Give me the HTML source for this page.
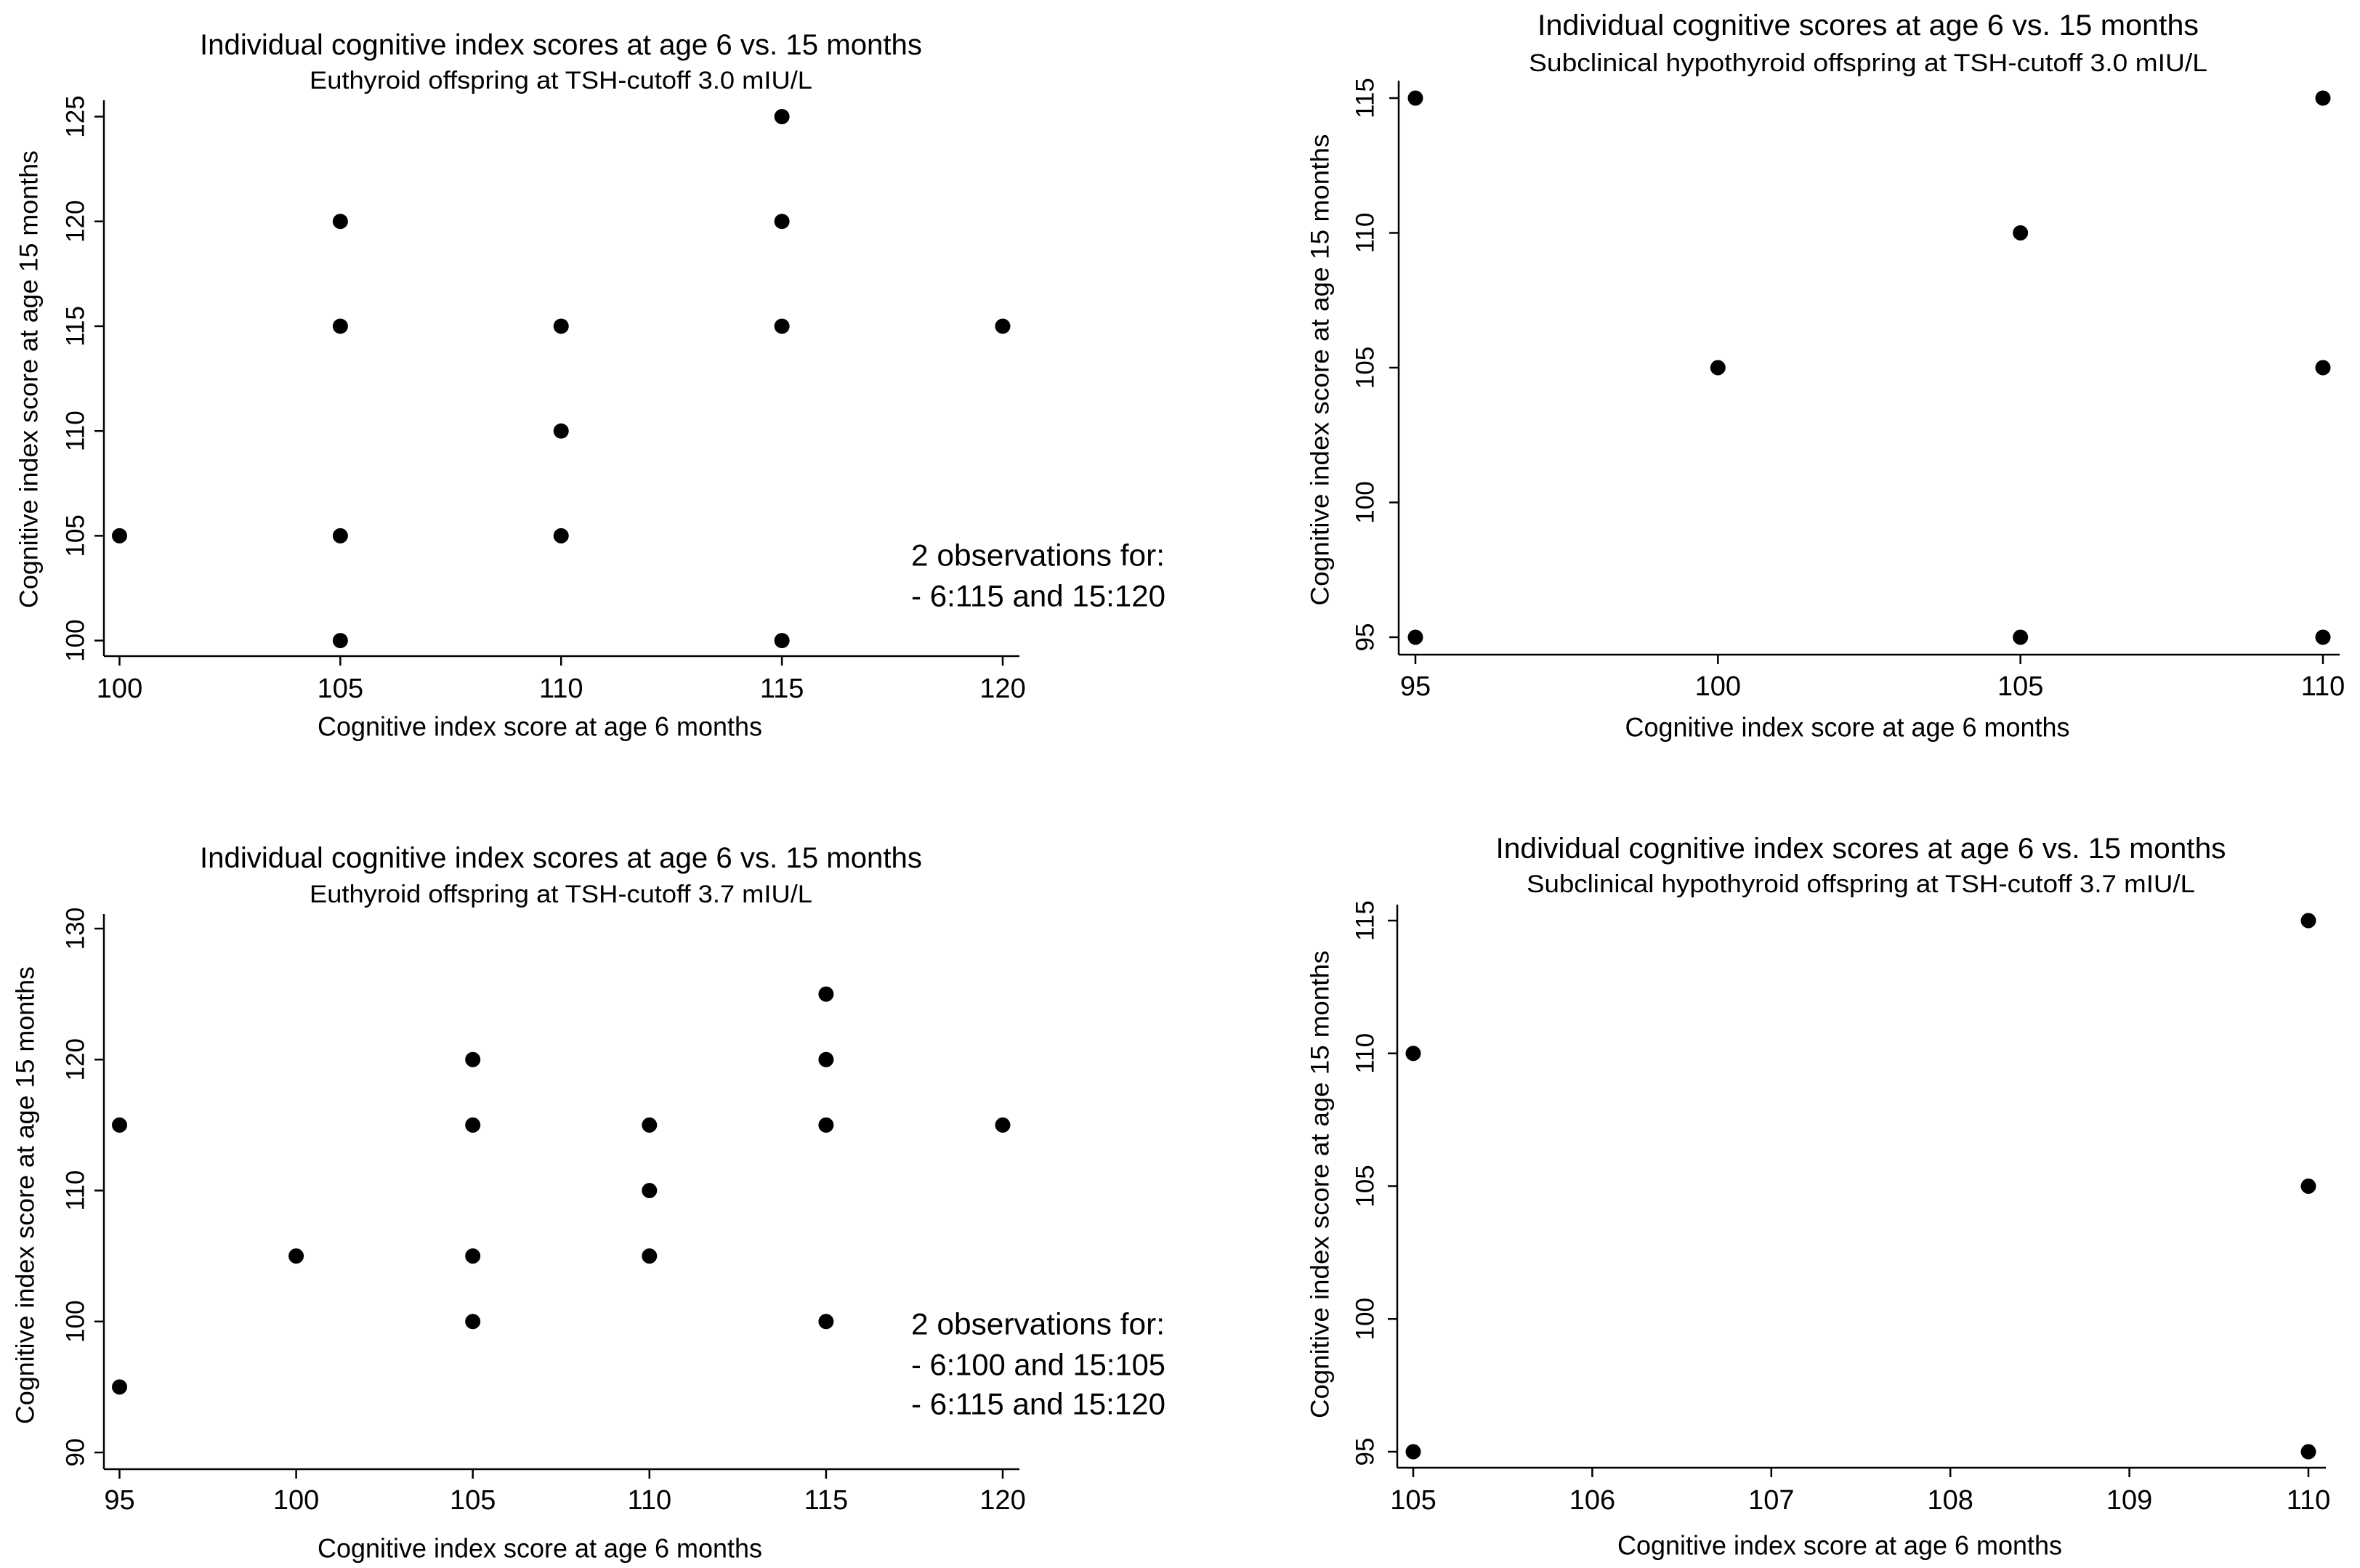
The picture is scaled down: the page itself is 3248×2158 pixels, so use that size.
<!DOCTYPE html>
<html><head><meta charset="utf-8"><style>html,body{margin:0;padding:0;background:#fff}svg{display:block}</style></head>
<body>
<svg id="fig" xmlns="http://www.w3.org/2000/svg" width="3248" height="2158" viewBox="0 0 3248 2158">
<rect width="3248" height="2158" fill="#fff"/>
</svg>
<script>
// Panel 1 data: Euthyroid 3.0
const p1X = [100,105,105,105,105,110,110,110,115,115,115,115,120];
const p1Y = [105,120,115,105,100,115,110,105,125,120,115,100,115];
const p1XTicks = [100,105,110,115,120];
const p1YTicks = [100,105,110,115,120,125];
// Panel 2 data: Subclinical 3.0
const p2X = [95,95,100,105,105,110,110,110];
const p2Y = [115,95,105,110,95,115,105,95];
const p2XTicks = [95,100,105,110];
const p2YTicks = [95,100,105,110,115];
// Panel 3 data: Euthyroid 3.7
const p3X = [95,95,100,105,105,105,105,110,110,110,115,115,115,115,120];
const p3Y = [115,95,105,120,115,105,100,115,110,105,125,120,115,100,115];
const p3XTicks = [95,100,105,110,115,120];
const p3YTicks = [90,100,110,120,130];
// Panel 4 data: Subclinical 3.7
const p4X = [105,105,110,110,110];
const p4Y = [110,95,115,105,95];
const p4XTicks = [105,106,107,108,109,110];
const p4YTicks = [95,100,105,110,115];

const NS = 'http://www.w3.org/2000/svg';
const svg = document.getElementById('fig');
const COND = '"Liberation Sans Narrow","Liberation Sans",sans-serif';
function mk(tag, attrs, parent){
  const e = document.createElementNS(NS, tag);
  for (const k in attrs) e.setAttribute(k, attrs[k]);
  (parent||svg).appendChild(e);
  return e;
}
function txt(s, x, y, size, len, family, parent, rot){
  const t = mk('text', {x:x, y:y, 'font-size':size, 'font-family':family, 'text-anchor':'middle', 'dominant-baseline':'central', fill:'#000'}, parent);
  if (len) { t.setAttribute('textLength', len); t.setAttribute('lengthAdjust', 'spacingAndGlyphs'); }
  if (rot) t.setAttribute('transform', 'rotate(-90 '+x+' '+y+')');
  t.textContent = s;
  return t;
}
function panel(cfg){
  const g = mk('g', {});
  
  
  const xs = v => cfg.x0 + (v - cfg.xv0) * (cfg.x1 - cfg.x0) / (cfg.xv1 - cfg.xv0);
  const ys = v => cfg.y0 + (v - cfg.yv0) * (cfg.y1 - cfg.y0) / (cfg.yv1 - cfg.yv0);
  let t = txt(cfg.title, cfg.tcx, cfg.ty, 40, cfg.tlen, COND, g);
  
  
  t = txt(cfg.sub, cfg.tcx, cfg.sy, 34, cfg.slen, COND, g);
  
  
  let l = mk('line', {x1:cfg.ax, y1:cfg.atop, x2:cfg.ax, y2:cfg.ay, stroke:'#000', 'stroke-width':2.5}, g);
  
  
  l = mk('line', {x1:cfg.ax, y1:cfg.ay, x2:cfg.aright, y2:cfg.ay, stroke:'#000', 'stroke-width':2.5}, g);
  
  
  cfg.xt.forEach(v => {
    const x = xs(v);
    const tk = mk('line', {x1:x, y1:cfg.ay, x2:x, y2:cfg.ay+13, stroke:'#000', 'stroke-width':2.5}, g);
    
    
    const lb = txt(String(v), x, cfg.xly, 38, null, COND, g);
    
    
  });
  cfg.yt.forEach(v => {
    const y = ys(v);
    const tk = mk('line', {x1:cfg.ax-13, y1:y, x2:cfg.ax, y2:y, stroke:'#000', 'stroke-width':2.5}, g);
    
    
    const lb = txt(String(v), cfg.ylx, y, 35, null, '"Liberation Sans",sans-serif', g, true);
    
    
  });
  t = txt('Cognitive index score at age 6 months', (cfg.ax+cfg.aright)/2 - 30, cfg.xty, 37, 612, COND, g);
  
  
  t = txt('Cognitive index score at age 15 months', cfg.ytx, cfg.ytcy, 35, cfg.ytlen, '"Liberation Sans",sans-serif', g, true);
  
  
  cfg.px.forEach((v, i) => {
    const c = mk('circle', {cx:xs(v), cy:ys(cfg.py[i]), r:10.5, fill:'#000'}, g);
    
    
  });
  if (cfg.note) {
    cfg.note.forEach((s, i) => {
      const n = mk('text', {x:1254, y:cfg.noteY[i], 'font-size':42, 'font-family':'"Liberation Sans",sans-serif', 'dominant-baseline':'central', fill:'#000', textLength:cfg.noteLen[i], lengthAdjust:'spacingAndGlyphs'}, g);
      
      
      n.textContent = s;
    });
  }
}
panel({name:'panel-euthyroid-3-0', title:'Individual cognitive index scores at age 6 vs. 15 months', sub:'Euthyroid offspring at TSH-cutoff 3.0 mIU/L',
  tcx:772, ty:62, sy:111, tlen:994, slen:692,
  ax:143, ay:903, atop:138, aright:1403,
  x0:164.5, x1:1380, xv0:100, xv1:120, y0:881.6, y1:160.5, yv0:100, yv1:125,
  xt:p1XTicks, yt:p1YTicks, xly:948, xty:1000, ylx:104, ytx:40, ytcy:522, ytlen:630,
  px:p1X, py:p1Y,
  note:['2 observations for:', '- 6:115 and 15:120'], noteY:[764, 820], noteLen:[349, 350]});
panel({name:'panel-subclinical-3-0', title:'Individual cognitive scores at age 6 vs. 15 months', sub:'Subclinical hypothyroid offspring at TSH-cutoff 3.0 mIU/L',
  tcx:2571, ty:35, sy:87, tlen:910, slen:934,
  ax:1925, ay:901, atop:111, aright:3220,
  x0:1948, x1:3197, xv0:95, xv1:110, y0:877, y1:135, yv0:95, yv1:115,
  xt:p2XTicks, yt:p2YTicks, xly:945, xty:1001, ylx:1879, ytx:1817, ytcy:509, ytlen:649,
  px:p2X, py:p2Y});
panel({name:'panel-euthyroid-3-7', title:'Individual cognitive index scores at age 6 vs. 15 months', sub:'Euthyroid offspring at TSH-cutoff 3.7 mIU/L',
  tcx:772, ty:1181, sy:1231, tlen:994, slen:692,
  ax:143, ay:2022, atop:1258, aright:1403,
  x0:164.5, x1:1380, xv0:95, xv1:120, y0:1999, y1:1278, yv0:90, yv1:130,
  xt:p3XTicks, yt:p3YTicks, xly:2065, xty:2131, ylx:104, ytx:35, ytcy:1645, ytlen:630,
  px:p3X, py:p3Y,
  note:['2 observations for:', '- 6:100 and 15:105', '- 6:115 and 15:120'], noteY:[1822, 1878, 1932], noteLen:[349, 350, 350]});
panel({name:'panel-subclinical-3-7', title:'Individual cognitive index scores at age 6 vs. 15 months', sub:'Subclinical hypothyroid offspring at TSH-cutoff 3.7 mIU/L',
  tcx:2561, ty:1168, sy:1217, tlen:1005, slen:920,
  ax:1923, ay:2020, atop:1245, aright:3201,
  x0:1945, x1:3177, xv0:105, xv1:110, y0:1998, y1:1267, yv0:95, yv1:115,
  xt:p4XTicks, yt:p4YTicks, xly:2065, xty:2127, ylx:1879, ytx:1817, ytcy:1630, ytlen:644,
  px:p4X, py:p4Y});
</script>
</body></html>
